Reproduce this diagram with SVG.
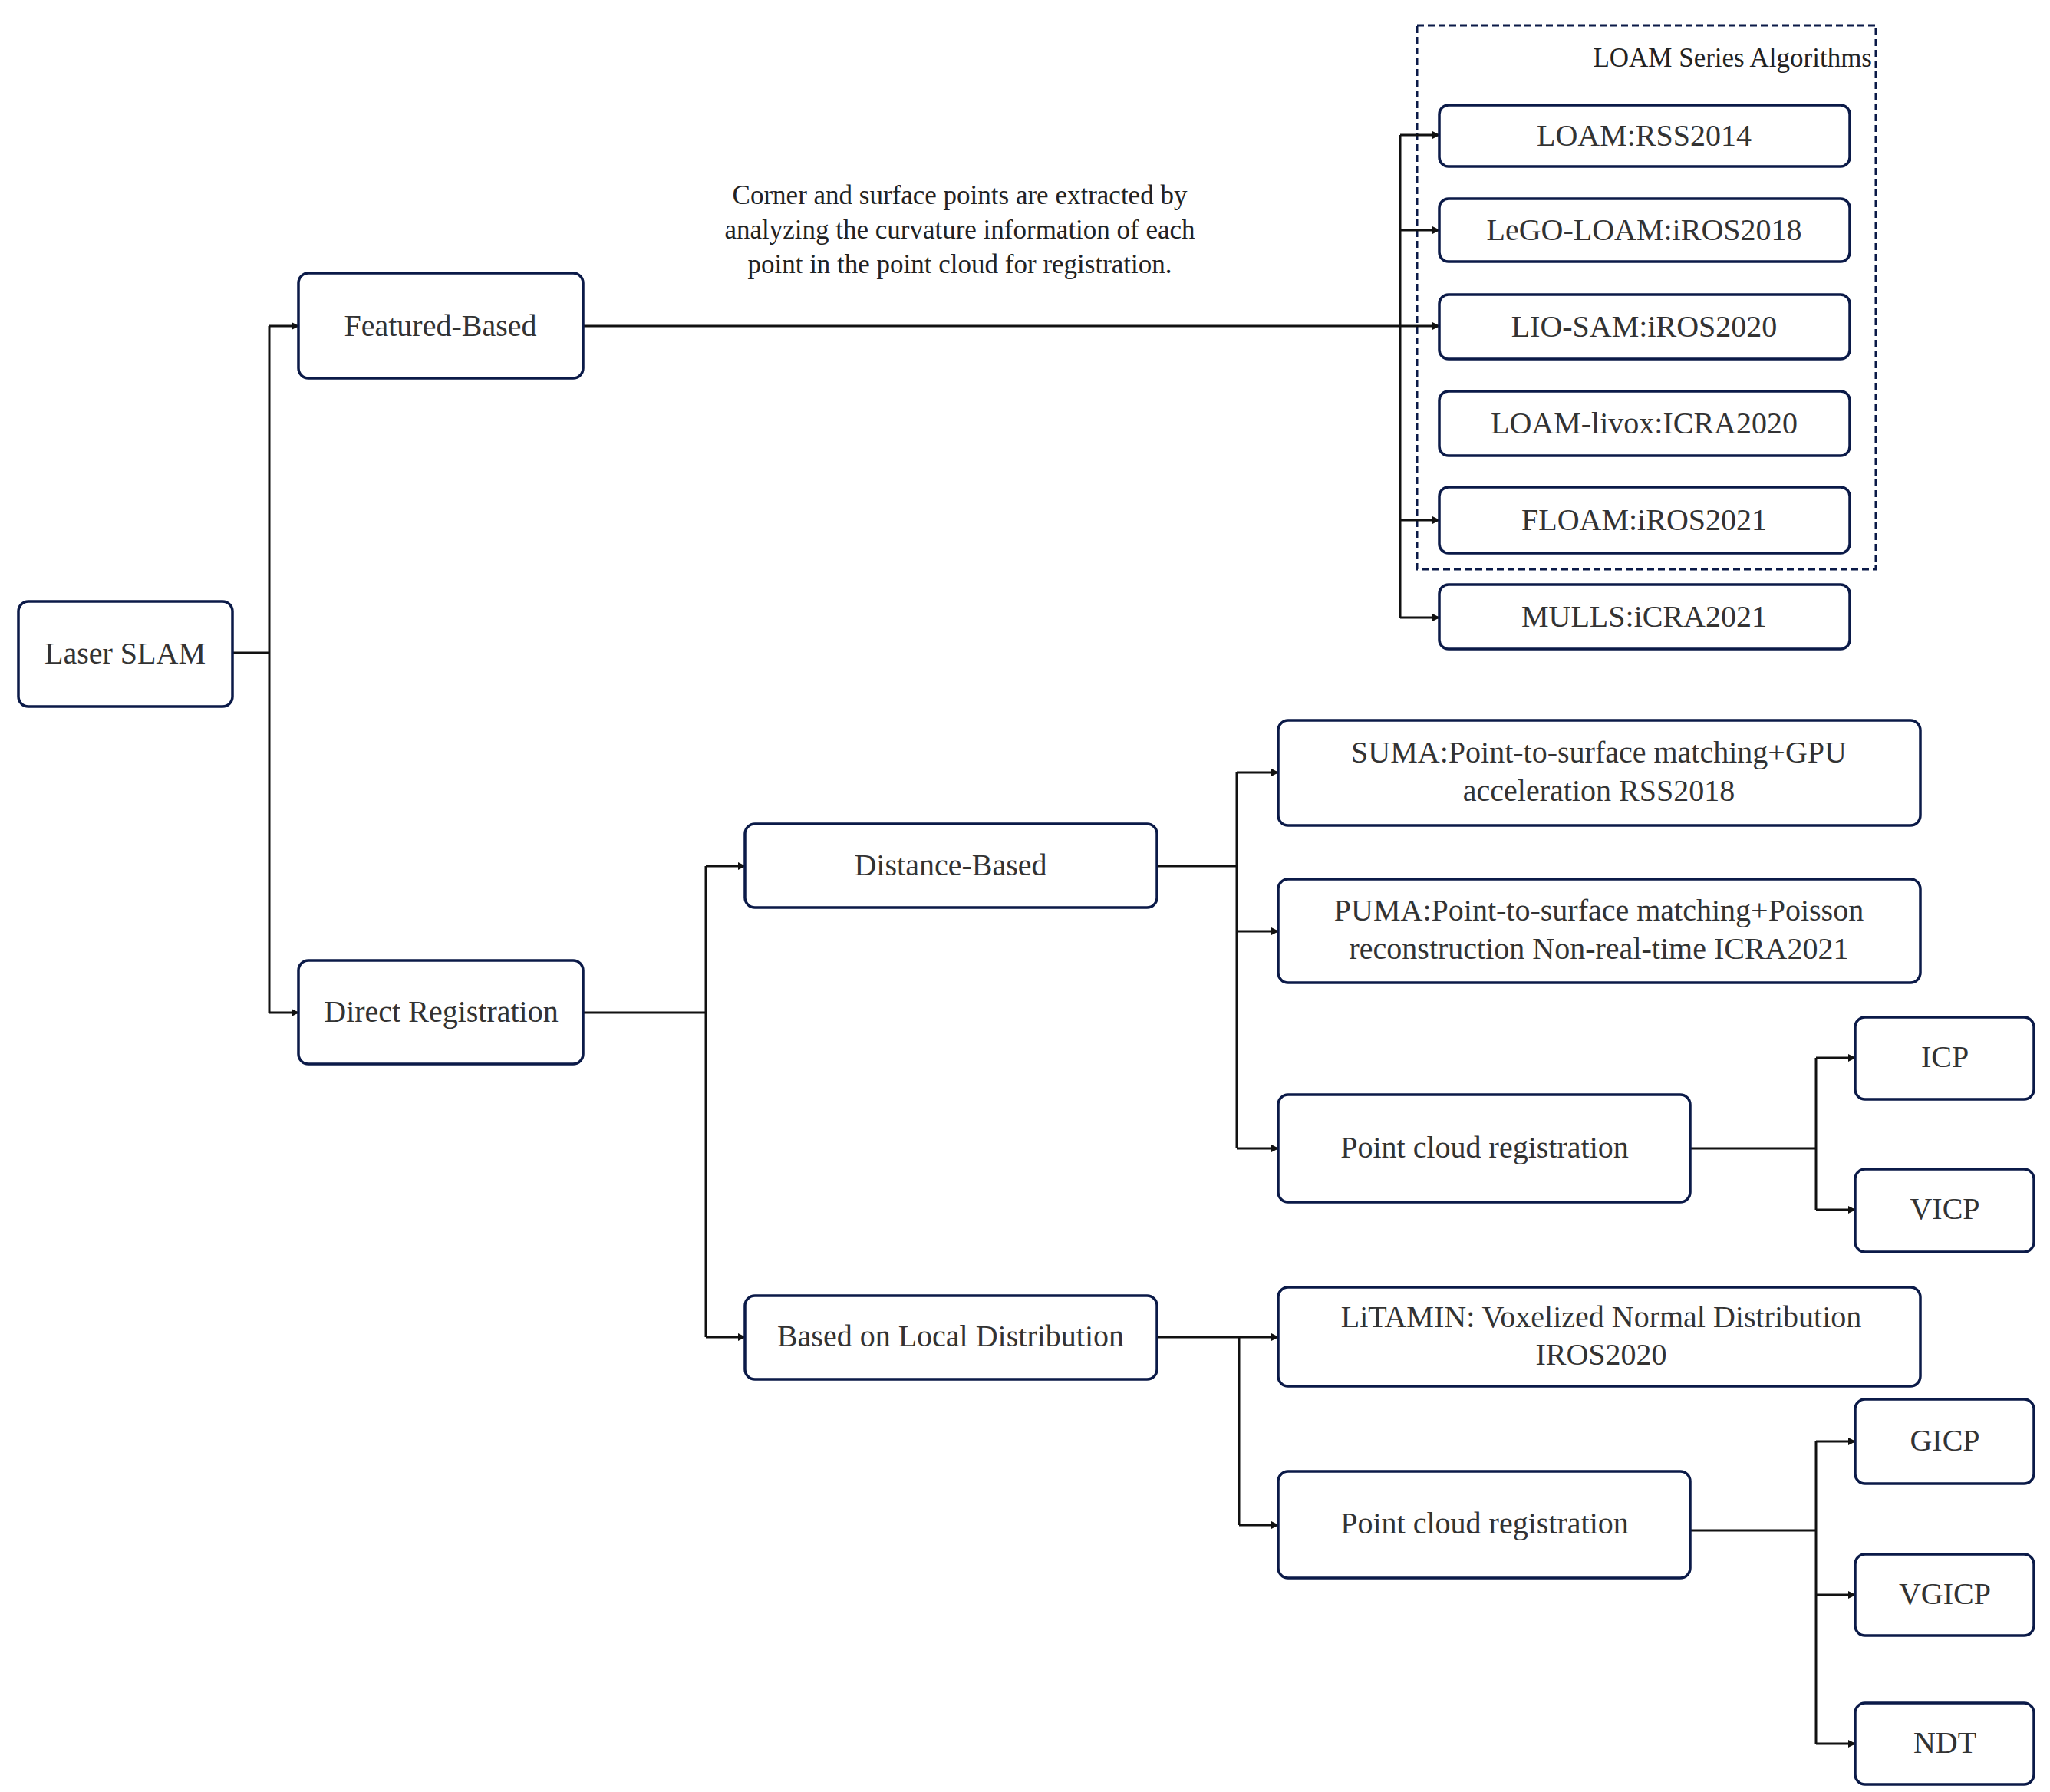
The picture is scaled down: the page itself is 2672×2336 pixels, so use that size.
<svg xmlns="http://www.w3.org/2000/svg" width="2672" height="2336" viewBox="0 0 2672 2336">
<style>
.n{fill:#fff;stroke:#0b1a48;stroke-width:3.5}
.t{font-family:"Liberation Serif",serif;font-size:40px;fill:#333;text-anchor:middle;dominant-baseline:central}
.a{font-family:"Liberation Serif",serif;font-size:35px;fill:#222;text-anchor:middle}
.c{fill:none;stroke:#111;stroke-width:3}
</style>
<defs><marker id="ar" markerWidth="10" markerHeight="10" refX="9" refY="5" orient="auto" markerUnits="userSpaceOnUse"><path d="M0,0L10,5L0,10z" fill="#111"/></marker></defs>
<rect width="2672" height="2336" fill="#fff"/>
<g id="loam-group"><rect x="1847" y="33" width="598" height="709" fill="none" stroke="#0b1a48" stroke-width="3" stroke-dasharray="9,5"/>
<text x="2440" y="87" class="a" style="text-anchor:end">LOAM Series Algorithms</text></g>
<text class="a"><tspan x="1251" y="266">Corner and surface points are extracted by</tspan><tspan x="1251" y="311">analyzing the curvature information of each</tspan><tspan x="1251" y="356">point in the point cloud for registration.</tspan></text>
<g id="connectors">
<path class="c" d="M303,851H351M351,425V1320"/>
<path class="c" marker-end="url(#ar)" d="M351,425H389"/>
<path class="c" marker-end="url(#ar)" d="M351,1320H389"/>
<path class="c" marker-end="url(#ar)" d="M760,425H1876"/>
<path class="c" d="M1825,176V805"/>
<path class="c" marker-end="url(#ar)" d="M1825,176H1876"/>
<path class="c" marker-end="url(#ar)" d="M1825,300H1876"/>
<path class="c" marker-end="url(#ar)" d="M1825,678H1876"/>
<path class="c" marker-end="url(#ar)" d="M1825,805H1876"/>
<path class="c" d="M760,1320H920M920,1129V1743"/>
<path class="c" marker-end="url(#ar)" d="M920,1129H971"/>
<path class="c" marker-end="url(#ar)" d="M920,1743H971"/>
<path class="c" d="M1508,1129H1612M1612,1007V1497"/>
<path class="c" marker-end="url(#ar)" d="M1612,1007H1666"/>
<path class="c" marker-end="url(#ar)" d="M1612,1214H1666"/>
<path class="c" marker-end="url(#ar)" d="M1612,1497H1666"/>
<path class="c" d="M2203,1497H2367M2367,1379V1577"/>
<path class="c" marker-end="url(#ar)" d="M2367,1379H2418"/>
<path class="c" marker-end="url(#ar)" d="M2367,1577H2418"/>
<path class="c" marker-end="url(#ar)" d="M1508,1743H1666"/>
<path class="c" d="M1615,1743V1988"/>
<path class="c" marker-end="url(#ar)" d="M1615,1988H1666"/>
<path class="c" d="M2203,1995H2367M2367,1879V2273"/>
<path class="c" marker-end="url(#ar)" d="M2367,1879H2418"/>
<path class="c" marker-end="url(#ar)" d="M2367,2079H2418"/>
<path class="c" marker-end="url(#ar)" d="M2367,2273H2418"/>
</g>
<g id="laser"><rect class="n" x="24" y="784" width="279" height="137" rx="13"/><text class="t" x="163" y="851">Laser SLAM</text></g>
<g id="featured"><rect class="n" x="389" y="356" width="371" height="137" rx="13"/><text class="t" x="574" y="424">Featured-Based</text></g>
<g id="direct"><rect class="n" x="389" y="1252" width="371" height="135" rx="13"/><text class="t" x="575" y="1318">Direct Registration</text></g>
<g id="distance"><rect class="n" x="971" y="1074" width="537" height="109" rx="13"/><text class="t" x="1239" y="1127">Distance-Based</text></g>
<g id="local"><rect class="n" x="971" y="1689" width="537" height="109" rx="13"/><text class="t" x="1239" y="1741">Based on Local Distribution</text></g>
<g id="loam"><rect class="n" x="1876" y="137" width="535" height="80" rx="12"/><text class="t" x="2143" y="176">LOAM:RSS2014</text></g>
<g id="lego"><rect class="n" x="1876" y="259" width="535" height="82" rx="12"/><text class="t" x="2143" y="299">LeGO-LOAM:iROS2018</text></g>
<g id="liosam"><rect class="n" x="1876" y="384" width="535" height="84" rx="12"/><text class="t" x="2143" y="425">LIO-SAM:iROS2020</text></g>
<g id="livox"><rect class="n" x="1876" y="510" width="535" height="84" rx="12"/><text class="t" x="2143" y="551">LOAM-livox:ICRA2020</text></g>
<g id="floam"><rect class="n" x="1876" y="635" width="535" height="86" rx="12"/><text class="t" x="2143" y="677">FLOAM:iROS2021</text></g>
<g id="mulls"><rect class="n" x="1876" y="762" width="535" height="84" rx="12"/><text class="t" x="2143" y="803">MULLS:iCRA2021</text></g>
<g id="suma"><rect class="n" x="1666" y="939" width="837" height="137" rx="13"/><text class="t" x="2084" y="980">SUMA:Point-to-surface matching+GPU</text><text class="t" x="2084" y="1030">acceleration RSS2018</text></g>
<g id="puma"><rect class="n" x="1666" y="1146" width="837" height="135" rx="13"/><text class="t" x="2084" y="1186">PUMA:Point-to-surface matching+Poisson</text><text class="t" x="2084" y="1236">reconstruction Non-real-time ICRA2021</text></g>
<g id="pcr1"><rect class="n" x="1666" y="1427" width="537" height="140" rx="13"/><text class="t" x="1935" y="1495">Point cloud registration</text></g>
<g id="icp"><rect class="n" x="2418" y="1326" width="233" height="107" rx="13"/><text class="t" x="2535" y="1377">ICP</text></g>
<g id="vicp"><rect class="n" x="2418" y="1524" width="233" height="108" rx="13"/><text class="t" x="2535" y="1575">VICP</text></g>
<g id="litamin"><rect class="n" x="1666" y="1678" width="837" height="129" rx="13"/><text class="t" x="2087" y="1716">LiTAMIN: Voxelized Normal Distribution</text><text class="t" x="2087" y="1765">IROS2020</text></g>
<g id="pcr2"><rect class="n" x="1666" y="1918" width="537" height="139" rx="13"/><text class="t" x="1935" y="1985">Point cloud registration</text></g>
<g id="gicp"><rect class="n" x="2418" y="1824" width="233" height="110" rx="13"/><text class="t" x="2535" y="1877">GICP</text></g>
<g id="vgicp"><rect class="n" x="2418" y="2026" width="233" height="106" rx="13"/><text class="t" x="2535" y="2077">VGICP</text></g>
<g id="ndt"><rect class="n" x="2418" y="2220" width="233" height="106" rx="13"/><text class="t" x="2535" y="2271">NDT</text></g>
</svg>
